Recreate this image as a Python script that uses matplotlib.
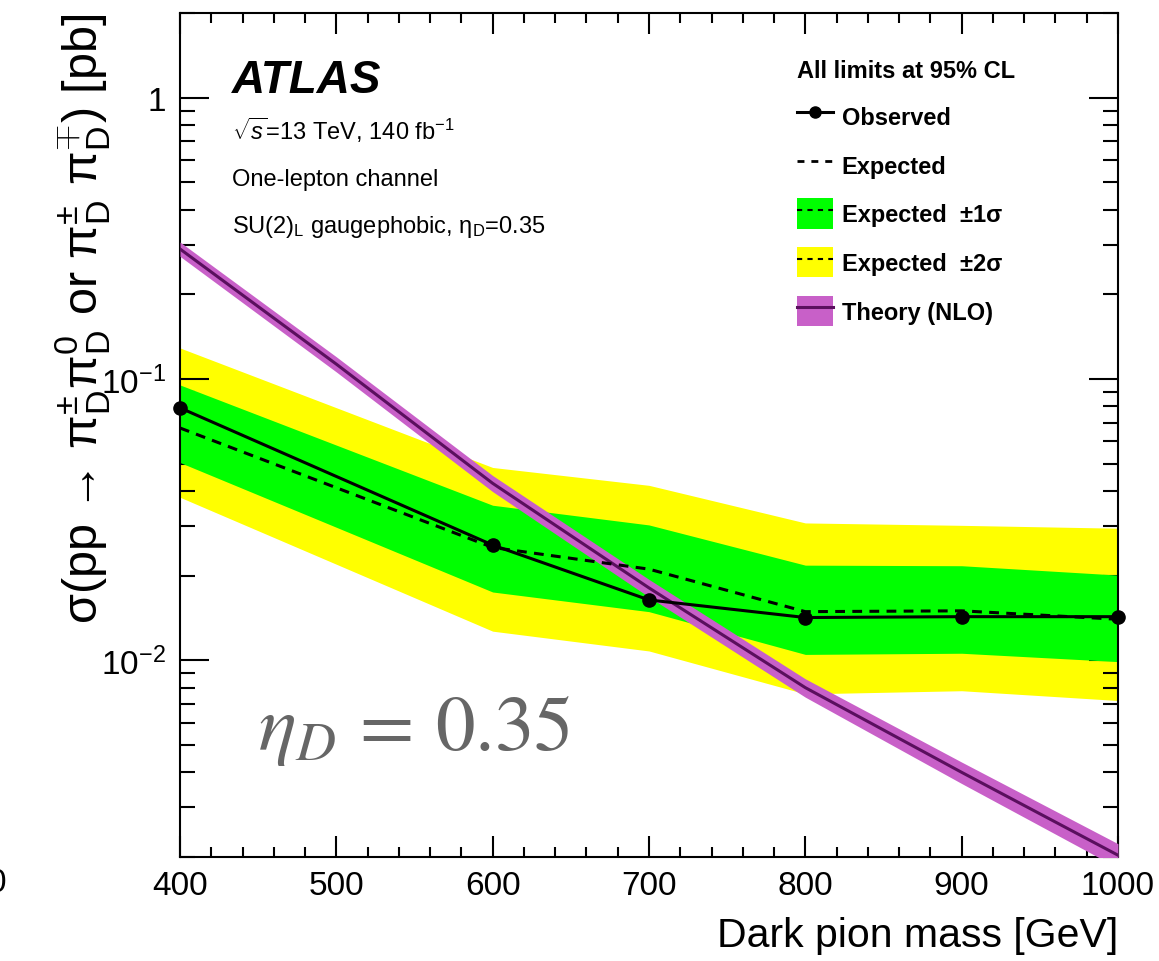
import math
import matplotlib
matplotlib.use("Agg")
import matplotlib.pyplot as plt
from matplotlib.lines import Line2D
from matplotlib.patches import Patch
from matplotlib.ticker import MultipleLocator, LogLocator, FuncFormatter, NullFormatter

plt.rcParams['font.family'] = ['Liberation Sans', 'DejaVu Sans']
plt.rcParams['mathtext.fontset'] = 'custom'
plt.rcParams['mathtext.rm'] = 'Liberation Sans'
plt.rcParams['mathtext.it'] = 'Liberation Sans:italic'
plt.rcParams['mathtext.bf'] = 'Liberation Sans:bold'

# Limits on the dark pion cross-section [pb]
mass = [400, 600, 700, 800, 900, 1000]
observed = [0.079, 0.0257, 0.0164, 0.0142, 0.0143, 0.0143]
expected = [0.067, 0.0252, 0.0211, 0.0149, 0.0150, 0.0140]
exp_1s_up = [0.0953, 0.0356, 0.0303, 0.0218, 0.0217, 0.0201]
exp_1s_dn = [0.0505, 0.0175, 0.0149, 0.0105, 0.0106, 0.0099]
exp_2s_up = [0.129, 0.0485, 0.0419, 0.0308, 0.0302, 0.0295]
exp_2s_dn = [0.038, 0.0127, 0.0108, 0.0076, 0.0078, 0.0072]

# NLO theory prediction with its uncertainty band
theory_mass = [400, 500, 600, 700, 800, 900, 1000]
theory = [0.290, 0.113, 0.0426, 0.0181, 0.0080, 0.0040, 0.00203]
theory_up = [0.307, 0.120, 0.0454, 0.0194, 0.0086, 0.00435, 0.00223]
theory_dn = [0.273, 0.106, 0.0398, 0.0168, 0.0074, 0.00365, 0.00183]

YELLOW = '#ffff00'
GREEN = '#00ff00'
PURPLE_BAND = '#c860c8'
PURPLE_LINE = '#5a0f5e'

fig = plt.figure(figsize=(11.59, 9.62), dpi=100)
ax = fig.add_axes([0.1553, 0.1081, 0.8093, 0.8773])

ax.fill_between(mass, exp_2s_dn, exp_2s_up, color=YELLOW, lw=0, zorder=1)
ax.fill_between(mass, exp_1s_dn, exp_1s_up, color=GREEN, lw=0, zorder=2)
ax.fill_between(theory_mass, theory_dn, theory_up, color=PURPLE_BAND, lw=0, zorder=3)
ax.plot(theory_mass, theory, color=PURPLE_LINE, lw=2.2, zorder=4)
ax.plot(mass, expected, color='black', lw=2.2, ls=(0, (3.2, 2.4)), zorder=5)
ax.plot(mass, observed, color='black', lw=2.2, marker='o', ms=9.5, zorder=6, clip_on=False)

ax.set_xlim(400, 1000)
ax.set_yscale('log')
ax.set_ylim(0.002, 2)

ax.xaxis.set_major_locator(MultipleLocator(100))
ax.xaxis.set_minor_locator(MultipleLocator(20))
ax.yaxis.set_major_locator(LogLocator(base=10))
ax.yaxis.set_minor_locator(LogLocator(base=10, subs=range(2, 10)))
ax.yaxis.set_minor_formatter(NullFormatter())


def log_label(v, pos):
    if abs(v - 1) < 1e-9:
        return '1'
    return r'$10^{%d}$' % int(round(math.log10(v)))


ax.yaxis.set_major_formatter(FuncFormatter(log_label))

ax.tick_params(which='both', direction='in', top=True, right=True,
               width=1.5, labelsize=24)
ax.tick_params(axis='x', which='major', length=15, pad=9)
ax.tick_params(axis='x', which='minor', length=7.5)
ax.tick_params(axis='y', which='major', length=21, pad=10)
ax.tick_params(axis='y', which='minor', length=11)
for sp in ax.spines.values():
    sp.set_linewidth(1.5)

ax.set_xlabel('Dark pion mass [GeV]', fontsize=29.5, loc='right')
ax.xaxis.set_label_coords(1.0, -0.07)
ax.set_ylabel(r'σ(pp → π$^{\pm}_{\mathrm{D}}$π$^{0}_{\mathrm{D}}$ or '
              r'π$^{\pm}_{\mathrm{D}}$ π$^{\mp}_{\mathrm{D}}$) [pb]',
              fontsize=35, loc='top')
ax.yaxis.set_label_coords(-0.072, 1.0)

ax.text(0.055, 0.906, 'ATLAS', transform=ax.transAxes, fontsize=33,
        fontweight='bold', fontstyle='italic', va='baseline')
ax.text(0.055, 0.851, r'$\sqrt{s}$=13 TeV, 140 fb$^{-1}$', transform=ax.transAxes,
        fontsize=17, va='baseline')
ax.text(0.055, 0.796, 'One-lepton channel', transform=ax.transAxes,
        fontsize=17, va='baseline')
ax.text(0.055, 0.741, r'SU(2)$_{\mathrm{L}}$ gaugephobic, η$_{\mathrm{D}}$=0.35',
        transform=ax.transAxes, fontsize=17, va='baseline')

ax.text(0.083, 0.128, r'$\eta_D \,=\, 0.35$', transform=ax.transAxes, fontsize=57,
        color='#666666', math_fontfamily='stix', va='baseline', zorder=7)

dash = (0, (2.5, 2.5))
handles = [
    Line2D([], [], color='black', lw=2.2, marker='o', ms=8),
    Line2D([], [], color='black', lw=2, ls=dash),
    (Patch(facecolor=GREEN, lw=0), Line2D([], [], color='black', lw=1.5, ls=dash)),
    (Patch(facecolor=YELLOW, lw=0), Line2D([], [], color='black', lw=1.5, ls=dash)),
    (Patch(facecolor=PURPLE_BAND, lw=0), Line2D([], [], color=PURPLE_LINE, lw=2.2)),
]
labels = ['Observed', 'Expected', 'Expected  \u00b11\u03c3', 'Expected  \u00b12\u03c3',
          'Theory (NLO)']
leg = ax.legend(handles, labels, loc='upper left', bbox_to_anchor=(0.645, 0.959),
                frameon=False, title='All limits at 95% CL', alignment='left',
                prop={'size': 17, 'weight': 'bold'},
                title_fontproperties={'size': 17, 'weight': 'bold'},
                borderpad=0, handlelength=1.55, handleheight=1.6,
                handletextpad=0.35, labelspacing=0.78)
leg.set_zorder(10)

fig.text(6 / 1159, 1 - 884 / 962, '0', ha='right', va='center', fontsize=24)

fig.savefig('out.png', dpi=100, facecolor='white')
